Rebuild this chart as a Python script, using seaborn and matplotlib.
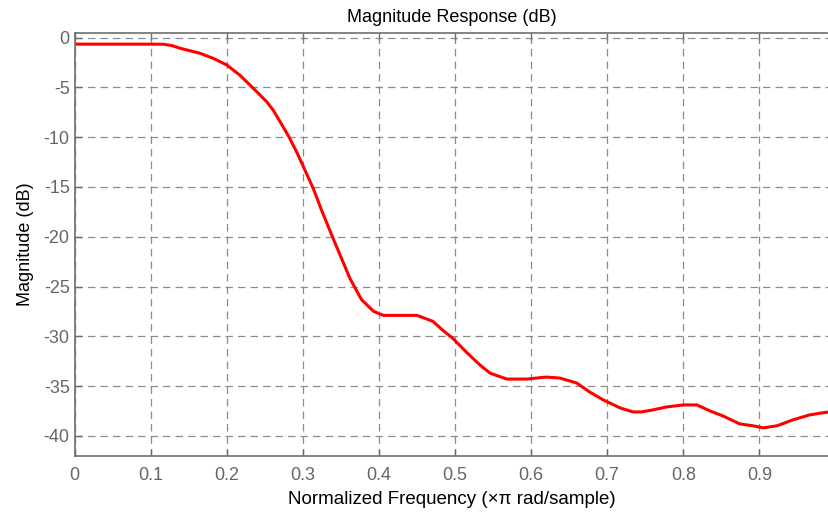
#!/usr/bin/env python3
"""Magnitude response of a lowpass filter, fvtool style."""

import pandas as pd
import matplotlib
matplotlib.use("Agg")
import matplotlib.pyplot as plt
import seaborn as sns

# Values
freq = [0.0, 0.05, 0.10, 0.117, 0.128, 0.139, 0.165, 0.182, 0.2, 0.217, 0.235,
        0.2525, 0.261, 0.274, 0.282, 0.292, 0.301, 0.314, 0.325, 0.340,
        0.351, 0.362, 0.377, 0.393, 0.406, 0.42, 0.45, 0.471, 0.484, 0.497,
        0.515, 0.533, 0.546, 0.568, 0.594, 0.62, 0.638, 0.66, 0.677, 0.695,
        0.717, 0.734, 0.745, 0.76, 0.778, 0.80, 0.818, 0.835, 0.852, 0.874,
        0.892, 0.905, 0.923, 0.944, 0.966, 0.982, 0.992]
mag_db = [-0.65, -0.65, -0.65, -0.66, -0.8, -1.07, -1.57, -2.07, -2.74, -3.75, -5.09,
          -6.43, -7.27, -8.94, -10.0, -11.5, -13.0, -15.2, -17.4, -20.2,
          -22.2, -24.2, -26.3, -27.5, -27.9, -27.9, -27.9, -28.5, -29.4, -30.2,
          -31.6, -32.9, -33.7, -34.3, -34.3, -34.1, -34.2, -34.7, -35.6, -36.4,
          -37.2, -37.6, -37.6, -37.4, -37.1, -36.9, -36.9, -37.5, -38.0, -38.8,
          -39.0, -39.2, -39.0, -38.4, -37.9, -37.7, -37.6]
x_ticks = [0, 0.1, 0.2, 0.3, 0.4, 0.5, 0.6, 0.7, 0.8, 0.9]
x_tick_labels = ['0', '0.1', '0.2', '0.3', '0.4', '0.5', '0.6', '0.7', '0.8', '0.9']
y_ticks = [0, -5, -10, -15, -20, -25, -30, -35, -40]

df = pd.DataFrame({'freq': freq, 'mag': mag_db})

sns.set_style('white')
plt.rcParams['font.family'] = ['Liberation Sans', 'DejaVu Sans']
plt.rcParams['axes.unicode_minus'] = False

fig = plt.figure(figsize=(8.29, 5.14), dpi=100)
ax = fig.add_axes([0.0899, 0.1134, 0.9101, 0.823])

sns.lineplot(data=df, x='freq', y='mag', color='red', linewidth=2.2, ax=ax)

ax.set_xlim(0, 0.9915)
ax.set_ylim(-42, 0.5)
ax.set_xticks(x_ticks)
ax.set_xticklabels(x_tick_labels)
ax.set_yticks(y_ticks)

ax.grid(True, linestyle=(0, (6, 4)), color='#8c8c8c', linewidth=0.9)
ax.set_axisbelow(True)

for side in ['left', 'bottom', 'top']:
    ax.spines[side].set_color('#6e6e6e')
    ax.spines[side].set_linewidth(1.2)
ax.spines['right'].set_visible(False)

ax.tick_params(axis='both', direction='in', length=5, colors='#6e6e6e',
               labelcolor='#666666', labelsize=13, top=True, bottom=True,
               left=True, width=1)
ax.tick_params(axis='x', pad=8)

ax.set_title('Magnitude Response (dB)', fontsize=13, color='black', pad=8)
ax.set_xlabel('Normalized Frequency (\u00d7\u03c0 rad/sample)', fontsize=13.5,
              color='black', labelpad=5)
ax.set_ylabel('Magnitude (dB)', fontsize=13, color='black', labelpad=7)

fig.savefig('out.png', dpi=100)
